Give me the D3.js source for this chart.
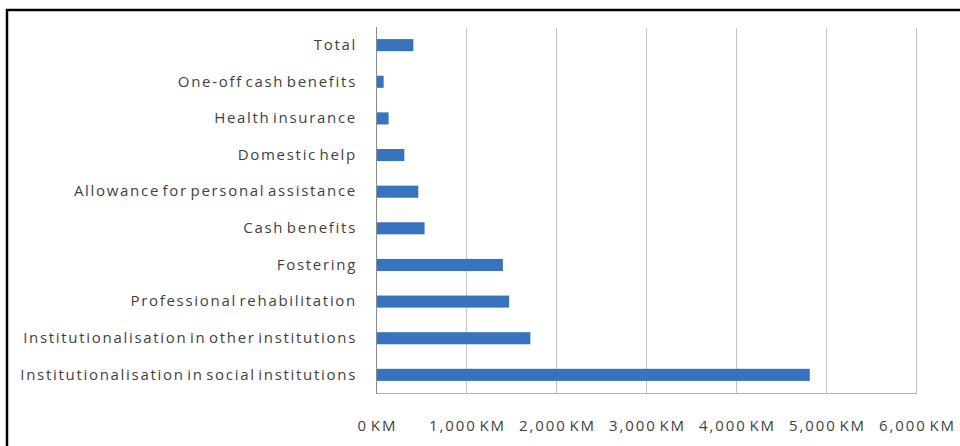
<!DOCTYPE html>
<html>
<head>
<meta charset="utf-8">
<script src="https://cdn.jsdelivr.net/npm/d3@7"></script>
<style>
  html, body { margin: 0; padding: 0; background: #fff; }
  svg { display: block; }
  text { font-family: "Open Sans", sans-serif; fill: #3f3f3f; }
</style>
</head>
<body>
<svg id="chart" width="960" height="446"></svg>
<script>
// Spending by benefit type (KM)
const categories = [
  "Total",
  "One-off cash benefits",
  "Health insurance",
  "Domestic help",
  "Allowance for personal assistance",
  "Cash benefits",
  "Fostering",
  "Professional rehabilitation",
  "Institutionalisation in other institutions",
  "Institutionalisation in social institutions"
];
const values = [415, 85, 140, 315, 470, 540, 1410, 1480, 1715, 4820];
const tickValues = [0, 1000, 2000, 3000, 4000, 5000, 6000];

const svg = d3.select("#chart");

// outer frame
svg.append("rect")
  .attr("x", 7).attr("y", 10)
  .attr("width", 970).attr("height", 460)
  .attr("fill", "none")
  .attr("stroke", "#000")
  .attr("stroke-width", 2.5);

const plot = { left: 376, right: 916, top: 27, bottom: 393 };

const x = d3.scaleLinear().domain([0, 6000]).range([plot.left, plot.right]);
const y = d3.scaleBand().domain(categories)
  .range([plot.top, plot.bottom]).paddingInner(0.67).paddingOuter(0.33);

// vertical gridlines
svg.append("g")
  .selectAll("line")
  .data(tickValues.slice(1))
  .join("line")
  .attr("x1", d => Math.round(x(d)) + 0.5)
  .attr("x2", d => Math.round(x(d)) + 0.5)
  .attr("y1", plot.top + 1).attr("y2", plot.bottom)
  .attr("stroke", "#c4c4c4")
  .attr("stroke-width", 1);

// bottom axis line
svg.append("line")
  .attr("x1", plot.left).attr("x2", plot.right + 1)
  .attr("y1", plot.bottom + 0.5).attr("y2", plot.bottom + 0.5)
  .attr("stroke", "#b4b4b4");

// bars
svg.append("g")
  .selectAll("rect")
  .data(values)
  .join("rect")
  .attr("x", x(0))
  .attr("y", (d, i) => y(categories[i]))
  .attr("width", d => x(d) - x(0))
  .attr("height", y.bandwidth())
  .attr("fill", "#3874bd");

// category axis (left)
const yAxis = d3.axisLeft(y).tickSize(0).tickPadding(19.5);
const gy = svg.append("g")
  .attr("transform", `translate(${plot.left + 0.5},0)`)
  .call(yAxis);
gy.select(".domain").attr("stroke", "#8a8a8a").attr("d", `M0,${plot.top}V${plot.bottom + 1}`);
gy.selectAll("text")
  .attr("font-size", 15)
  .style("font-family", "'Open Sans', sans-serif")
  .style("letter-spacing", "1.7px")
  .style("word-spacing", "-3px")
  .attr("fill", "#3f3f3f");

// value axis (bottom)
const fmt = d3.format(",");
const xAxis = d3.axisBottom(x).tickValues(tickValues)
  .tickSize(0).tickPadding(27)
  .tickFormat(d => fmt(d) + " KM");
const gx = svg.append("g")
  .attr("transform", `translate(0,${plot.bottom})`)
  .call(xAxis);
gx.select(".domain").remove();
gx.selectAll("text")
  .attr("font-size", 15)
  .attr("dx", "0.06em")
  .style("font-family", "'Open Sans', sans-serif")
  .style("letter-spacing", "1.9px")
  .style("word-spacing", "-3px")
  .attr("fill", "#3f3f3f");
</script>
</body>
</html>
